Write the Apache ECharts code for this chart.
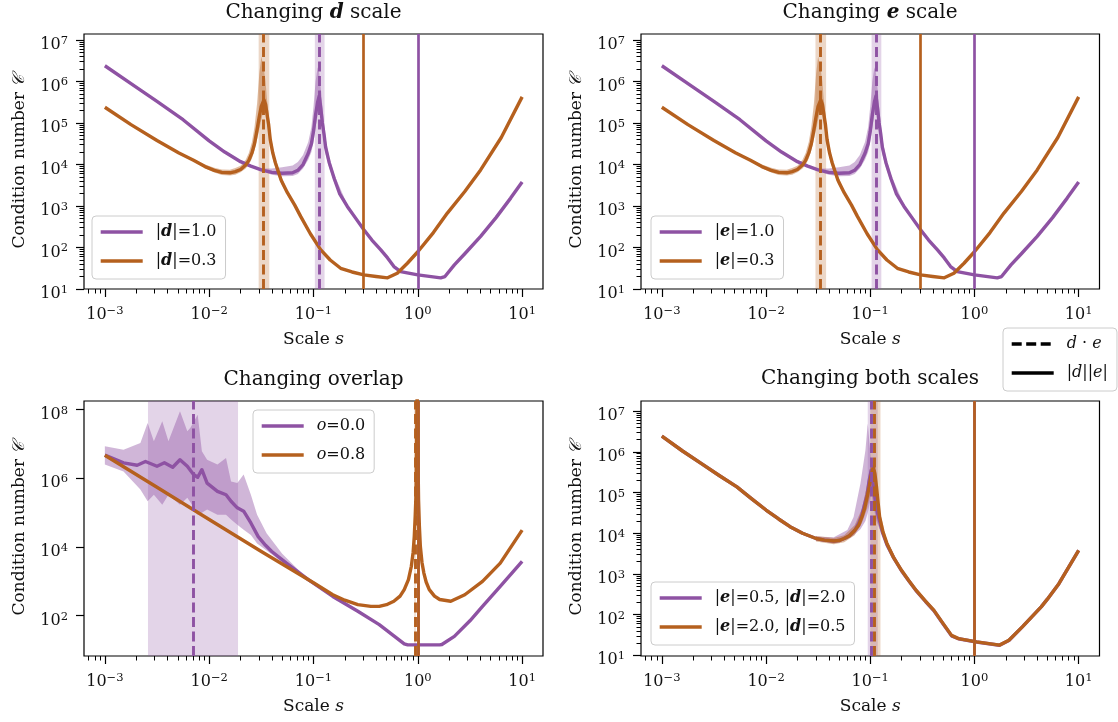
<!DOCTYPE html>
<html><head><meta charset="utf-8">
<script src="https://cdn.jsdelivr.net/npm/echarts@6/dist/echarts.min.js"></script>
<style>html,body{margin:0;padding:0;background:#fff}#c{width:1118px;height:722px}</style>
</head><body><div id="c"></div>
<script>
// ---------------- DATA ----------------
// Panel 1 / 2 : changing d (or e) scale   [scale s, condition number C]
const p1Purple = [[0.001,2.4e6],[0.00178,8.91e5],[0.00316,3.31e5],[0.00562,1.2e5],[0.01,3.72e4],[0.0141,2.0e4],[0.02,1.17e4],[0.0251,9120],[0.0316,7410],[0.0398,6460],[0.0501,6170],[0.0631,6310],[0.0708,7240],[0.0794,1.0e4],[0.0891,1.86e4],[0.0955,3.16e4],[0.1,6.3e4],[0.1047,1.58e5],[0.1096,3.16e5],[0.1135,4.47e5],[0.1175,2.24e5],[0.1216,1e5],[0.1259,5.62e4],[0.1306,2.63e4],[0.1413,1.12e4],[0.1585,4470],[0.1778,2000],[0.2109,977],[0.2512,525],[0.304,269],[0.363,151],[0.4395,89],[0.5129,56],[0.59,34.7],[0.684,26.3],[1.0,21.9],[1.656,18.6],[1.82,20],[2.24,38],[2.82,70.8],[4.0,186],[5.62,525],[7.76,1550],[10,3800]];
const p1PurpleBand = [[0.0251,9000,9300],[0.0316,7000,8000],[0.0398,5700,8000],[0.0501,5200,8600],[0.0631,5300,9500],[0.0708,5900,1.15e4],[0.0794,8000,1.7e4],[0.0891,1.3e4,3.5e4],[0.0955,2e4,8e4],[0.1,3.5e4,2.5e5],[0.1047,8e4,1e6],[0.1096,1.6e5,2.2e6],[0.1135,2.4e5,1.6e6],[0.1175,1.4e5,7e5],[0.1216,6.3e4,2.5e5],[0.1259,3.5e4,1e5],[0.1306,1.8e4,4.2e4],[0.1413,8500,1.5e4],[0.1585,3600,5600],[0.2109,880,1090]];
const p1Orange = [[0.001,2.4e5],[0.00178,9.12e4],[0.00316,3.8e4],[0.00513,1.9e4],[0.00708,1.26e4],[0.00912,8900],[0.0112,7240],[0.0132,6460],[0.0158,6310],[0.0178,6760],[0.02,7590],[0.0224,9770],[0.024,1.26e4],[0.0257,1.9e4],[0.0272,3.16e4],[0.0288,6.92e4],[0.0302,1.41e5],[0.0316,2.51e5],[0.0335,3.63e5],[0.0347,2.82e5],[0.0357,1.74e5],[0.0372,8.9e4],[0.0385,3.98e4],[0.0407,1.9e4],[0.0431,1.1e4],[0.049,4170],[0.0562,2090],[0.0661,1050],[0.0753,562],[0.0933,214],[0.117,89],[0.1445,50],[0.182,31.6],[0.234,25.7],[0.304,21.9],[0.398,20],[0.513,18.6],[0.635,24],[0.794,41.7],[1.0,79],[1.41,229],[1.92,676],[2.82,2240],[4.0,7410],[6.31,4.47e4],[10,4.27e5]];
const p1OrangeBand = [[0.00513,1.85e4,1.97e4],[0.00708,1.2e4,1.35e4],[0.00912,8100,1.0e4],[0.0112,6400,8300],[0.0132,5600,7600],[0.0158,5400,7500],[0.0178,5700,8200],[0.02,6500,9300],[0.0224,8000,1.3e4],[0.024,1e4,1.9e4],[0.0257,1.4e4,3.5e4],[0.0272,2.2e4,8e4],[0.0288,4e4,3e5],[0.0302,7e4,1.5e6],[0.0316,1.2e5,3.98e6],[0.0335,2.2e5,2e6],[0.0347,1.8e5,1e6],[0.0357,1.1e5,4e5],[0.0372,5.5e4,1.6e5],[0.0385,2.6e4,6e4],[0.0407,1.4e4,2.6e4],[0.0431,8500,1.4e4],[0.049,3400,5200],[0.0562,1900,2300],[0.0753,530,600]];
const p1Dashed = [0.1146, 0.0333];           // d·e  (purple, orange)
const p1Spans  = [[0.103,0.1277],[0.0298,0.0377]];
const p1Solid  = [1.0, 0.3];                 // |d||e|

// Panel 3 : changing overlap
const p3Purple = [[0.001,4.7e6],[0.00151,2.82e6],[0.00204,2.4e6],[0.00245,3.09e6],[0.00316,2.24e6],[0.00372,2.82e6],[0.00447,2.09e6],[0.00525,3.47e6],[0.00617,2.24e6],[0.00708,1.29e6],[0.00776,1.07e6],[0.00851,1.78e6],[0.00955,7.24e5],[0.012,4.17e5],[0.0145,3.31e5],[0.0162,2.14e5],[0.0186,1.38e5],[0.0214,1.1e5],[0.0251,5.0e4],[0.0295,2.0e4],[0.0347,1.12e4],[0.0398,7400],[0.055,3390],[0.0891,1120],[0.153,363],[0.266,135],[0.427,55],[0.741,15.1],[0.8,14.1],[1.62,14.1],[1.7,14.5],[2.24,25],[3.16,70.8],[4.17,186],[6.17,708],[10,3800]];
const p3PurpleBand = [[0.001,2.5e6,8.5e6],[0.00151,1.58e6,6.76e6],[0.00219,4.68e5,1.07e7],[0.00257,2.14e5,4.07e7],[0.00295,3.31e5,1.2e7],[0.00355,1.7e5,4.57e7],[0.00407,3.31e5,1.2e7],[0.00525,1.7e5,8.9e7],[0.00617,2.69e5,2.34e7],[0.00661,2e5,2.95e7],[0.00776,8.7e4,7.08e7],[0.00851,1e5,6.17e6],[0.00955,1.23e5,3.47e6],[0.012,8.7e4,2.5e6],[0.0145,8.7e4,3.89e6],[0.0162,6.3e4,8.1e5],[0.0186,4.47e4,7.24e5],[0.0214,3.16e4,1.29e6],[0.0251,2.24e4,3.31e5],[0.0288,1.26e4,8.7e4],[0.0355,7940,2.5e4],[0.0501,3550,6310],[0.0794,1260,1580],[0.126,501,589],[0.158,339,372]];
const p3Orange = [[0.001,4.68e6],[0.00316,5.5e5],[0.01,6.31e4],[0.0316,7410],[0.1,912],[0.153,407],[0.1995,282],[0.266,209],[0.355,186],[0.427,186],[0.501,209],[0.589,263],[0.676,372],[0.741,575],[0.813,1120],[0.867,2750],[0.902,7080],[0.925,2.04e4],[0.944,7.94e4],[0.962,3.72e5],[0.985,3.2e8],[1.016,2.4e5],[1.035,3.98e4],[1.057,1.05e4],[1.096,3550],[1.143,1740],[1.202,955],[1.288,575],[1.445,372],[1.62,295],[2.07,263],[2.82,407],[4.17,1000],[6.17,3390],[10,3.09e4]];
const p3Dashed = [0.0071, 0.94];
const p3Spans  = [[0.00259,0.0189],[0.925,0.955]];
const p3Solid  = [1.0, 1.0];

// Panel 4 : changing both scales
const p4Purple = [[0.001,2.45e6],[0.00158,1.05e6],[0.0024,5.13e5],[0.00355,2.63e5],[0.00525,1.38e5],[0.00724,7.08e4],[0.01,3.72e4],[0.0132,2.24e4],[0.017,1.45e4],[0.0224,1e4],[0.0302,7410],[0.0363,6760],[0.0447,6460],[0.0501,6610],[0.0562,7410],[0.0631,8710],[0.0708,1.17e4],[0.0776,1.78e4],[0.0832,2.82e4],[0.0881,5.01e4],[0.0933,8.9e4],[0.0977,2e5],[0.1023,3.55e5],[0.1059,1.78e5],[0.111,7.08e4],[0.1148,3.98e4],[0.123,2e4],[0.1318,1e4],[0.1445,5250],[0.166,2600],[0.1995,1200],[0.234,680],[0.275,390],[0.339,210],[0.407,126],[0.501,59],[0.603,30],[0.703,25.5],[1.047,21.2],[1.738,17.7],[2.14,23.2],[2.88,50],[4.37,155],[5.01,240],[6.46,575],[10,3800]];
const p4PurpleBand = [[0.0302,6610,8320],[0.0447,5620,7940],[0.0603,7080,1.2e4],[0.0692,8910,2.5e4],[0.0805,1.26e4,1.66e5],[0.0899,2e4,1.1e6],[0.0946,3.16e4,5.01e6],[0.1,6.3e4,1e6],[0.1023,1e5,5.01e5],[0.1084,3.98e4,1.58e5],[0.1148,2e4,5.01e4],[0.123,1.26e4,2.51e4],[0.1445,4470,6310],[0.1995,1120,1320]];
const p4Orange = [[0.001,2.45e6],[0.00158,1.05e6],[0.0024,5.13e5],[0.00355,2.63e5],[0.00525,1.38e5],[0.00724,7.08e4],[0.01,3.72e4],[0.0132,2.24e4],[0.017,1.45e4],[0.0224,1e4],[0.0302,7410],[0.0363,6760],[0.0447,6460],[0.0501,6610],[0.0562,7410],[0.0631,8710],[0.0708,1.17e4],[0.0776,1.58e4],[0.0832,2.51e4],[0.0881,3.98e4],[0.0933,7.76e4],[0.0977,1.41e5],[0.1012,2.45e5],[0.1072,4.27e5],[0.111,2.82e5],[0.1148,1.38e5],[0.1189,5.62e4],[0.123,2.51e4],[0.1318,1.12e4],[0.1445,5620],[0.166,2630],[0.1995,1230],[0.234,692],[0.275,398],[0.339,214],[0.407,129],[0.501,60],[0.603,30.9],[0.703,25.7],[1.047,21.4],[1.738,17.8],[2.14,23.4],[2.88,50],[4.37,155],[5.01,240],[6.46,575],[10,3800]];
const p4OrangeBand = [[0.0302,6310,8510],[0.0447,5370,7590],[0.0562,6030,8910],[0.0708,8910,1.58e4],[0.0832,1.78e4,3.98e4],[0.0933,3.98e4,1.58e5],[0.1012,1e5,5.01e5],[0.1072,2e5,6.31e5],[0.1148,7.94e4,2e5],[0.123,1.78e4,3.55e4],[0.1445,4790,6610],[0.1995,1120,1320]];
const p4Dashed = [0.1026, 0.109];
const p4Spans  = [[0.0946,0.118],[0.1,0.1253]];
const p4Solid  = [1.0, 1.0];

// Labels
const titles = ['Changing {bi|d} scale', 'Changing {bi|e} scale', 'Changing overlap', 'Changing both scales'];
const p1Names = ['|d|=1.0', '|d|=0.3'];
const p2Names = ['|e|=1.0', '|e|=0.3'];
const p3Names = ['o=0.0', 'o=0.8'];
const p4Names = ['|e|=0.5, |d|=2.0', '|e|=2.0, |d|=0.5'];
const figNames = ['d · e', '|d||e|'];
const xTickExps = [-3, -2, -1, 0, 1];
const yTickExps = [[1,2,3,4,5,6,7],[1,2,3,4,5,6,7],[2,4,6,8],[1,2,3,4,5,6,7]];
const xRange = [-3.2, 1.2];                       // log10 limits
const yRanges = [[1,7.145],[1,7.145],[0.826,8.25],[0.983,7.25]];

// ---------------- STYLE ----------------
const F = 'DejaVu Serif';
const PURPLE = '#8E52A3', ORANGE = '#B5601E';
const PURPLE_FILL = 'rgba(142,82,163,0.42)', ORANGE_FILL = 'rgba(181,96,30,0.42)';
const PURPLE_SPAN = 'rgba(142,82,163,0.25)', ORANGE_SPAN = 'rgba(181,96,30,0.25)';
const TXT = '#111';
const LW = 3.4;
const gridsPos = [{left:84, top:34, width:459, height:255},{left:641, top:34, width:458.5, height:255},
                  {left:84, top:401, width:459, height:255},{left:641, top:401, width:458.5, height:255}];

const tickRich = {
  b: {fontFamily:F, fontSize:16, lineHeight:18, verticalAlign:'bottom', color:TXT},
  s: {fontFamily:F, fontSize:11.5, lineHeight:12, verticalAlign:'top', color:TXT}
};
const nameRich = {
  n: {fontFamily:F, fontSize:17, color:TXT},
  i: {fontFamily:F, fontSize:17, fontStyle:'italic', color:TXT},
  c: {fontFamily:F, fontSize:17, fontStyle:'italic', color:TXT}
};
function expFmt(v){ const n = Math.round(v); return '{b|10}{s|' + (n < 0 ? '\u2212' + (-n) : n) + '}'; }
function minorExps(lo, hi){
  const out = [];
  for (let n = Math.floor(lo) - 1; n <= Math.ceil(hi); n++)
    for (let k = 2; k <= 9; k++){ const e = n + Math.log10(k); if (e > lo && e < hi) out.push(e); }
  return out;
}
const tickLine = {color:'#000', width:1.2};

const xAxes = [], yAxes = [];
for (let p = 0; p < 4; p++){
  xAxes.push({type:'log', gridIndex:p, logBase:10, min:Math.pow(10,xRange[0]), max:Math.pow(10,xRange[1]), show:false});
  xAxes.push({type:'value', gridIndex:p, position:'bottom', min:xRange[0], max:xRange[1],
    axisLine:{show:false, onZero:false}, splitLine:{show:false},
    axisTick:{show:true, customValues:xTickExps, length:8, lineStyle:tickLine},
    axisLabel:{show:true, customValues:xTickExps, formatter:expFmt, margin:16, rich:tickRich},
    name:'{n|Scale }{i|s}', nameLocation:'middle', nameGap:42, nameTextStyle:{rich:nameRich}});
  xAxes.push({type:'value', gridIndex:p, position:'bottom', min:xRange[0], max:xRange[1],
    axisLine:{show:false, onZero:false}, splitLine:{show:false}, axisLabel:{show:false},
    axisTick:{show:true, customValues:minorExps(xRange[0], xRange[1]), length:4.5, lineStyle:{color:'#000', width:1}}});
  const yr = yRanges[p];
  yAxes.push({type:'log', gridIndex:p, logBase:10, min:Math.pow(10,yr[0]), max:Math.pow(10,yr[1]), show:false});
  yAxes.push({type:'value', gridIndex:p, position:'left', min:yr[0], max:yr[1],
    axisLine:{show:false, onZero:false}, splitLine:{show:false},
    axisTick:{show:true, customValues:yTickExps[p], length:8, lineStyle:tickLine},
    axisLabel:{show:true, customValues:yTickExps[p], formatter:expFmt, margin:16, padding:[8,0,0,0], rich:tickRich},
    name:'{n|Condition number }{c|\uD835\uDC9E}', nameLocation:'middle', nameGap:56, nameTextStyle:{rich:nameRich}});
  yAxes.push({type:'value', gridIndex:p, position:'left', min:yr[0], max:yr[1],
    axisLine:{show:false, onZero:false}, splitLine:{show:false}, axisLabel:{show:false},
    axisTick:{show:p !== 2, customValues:p !== 2 ? minorExps(yr[0], yr[1]) : [], length:4.5, lineStyle:{color:'#000', width:1}}});
}

function band(p, data, fill){
  return {type:'custom', xAxisIndex:3*p, yAxisIndex:3*p, silent:true, z:2,
    data:[[data[0][0], data[0][1]]],
    renderItem: function(params, api){
      const up = data.map(b => api.coord([b[0], b[2]]));
      const lo = data.slice().reverse().map(b => api.coord([b[0], b[1]]));
      return {type:'polygon', shape:{points:up.concat(lo)}, style:{fill:fill, stroke:null}};
    }};
}
function curve(p, name, data, color, dashed, solid, span, spanColor){
  return {type:'line', name:name, xAxisIndex:3*p, yAxisIndex:3*p, data:data, symbol:'none', showSymbol:false,
    silent:true, z:3, lineStyle:{width:LW, color:color, join:'round'}, itemStyle:{color:color}, emphasis:{disabled:true},
    markLine:{silent:true, precision:8, symbol:['none','none'], label:{show:false}, emphasis:{disabled:true}, z:5,
      data:[{xAxis:dashed, lineStyle:{type:[10,4.5], width:2.9, color:color}},
            {xAxis:solid, lineStyle:{type:'solid', width:2.7, color:color}}]},
    markArea:{silent:true, precision:8, z:1, itemStyle:{color:spanColor}, emphasis:{disabled:true},
      data:[[{xAxis:span[0]}, {xAxis:span[1]}]]}};
}

const series = [];
// panel 1 & 2
[[0, p1Names],[1, p2Names]].forEach(([p, names]) => {
  series.push(band(p, p1PurpleBand, PURPLE_FILL));
  series.push(band(p, p1OrangeBand, ORANGE_FILL));
  series.push(curve(p, names[0], p1Purple, PURPLE, p1Dashed[0], p1Solid[0], p1Spans[0], PURPLE_SPAN));
  series.push(curve(p, names[1], p1Orange, ORANGE, p1Dashed[1], p1Solid[1], p1Spans[1], ORANGE_SPAN));
});
// panel 3
series.push(band(2, p3PurpleBand, PURPLE_FILL));
series.push(curve(2, p3Names[0], p3Purple, PURPLE, p3Dashed[0], p3Solid[0], p3Spans[0], PURPLE_SPAN));
series.push(curve(2, p3Names[1], p3Orange, ORANGE, p3Dashed[1], p3Solid[1], p3Spans[1], ORANGE_SPAN));
// panel 4
series.push(band(3, p4PurpleBand, PURPLE_FILL));
series.push(band(3, p4OrangeBand, ORANGE_FILL));
series.push(curve(3, p4Names[0], p4Purple, PURPLE, p4Dashed[0], p4Solid[0], p4Spans[0], PURPLE_SPAN));
series.push(curve(3, p4Names[1], p4Orange, ORANGE, p4Dashed[1], p4Solid[1], p4Spans[1], ORANGE_SPAN));
// figure legend proxies
series.push({type:'line', name:figNames[0], xAxisIndex:0, yAxisIndex:0, data:[], symbol:'none', color:'#000', lineStyle:{type:[10,4.5], width:LW, color:'#000'}});
series.push({type:'line', name:figNames[1], xAxisIndex:0, yAxisIndex:0, data:[], symbol:'none', color:'#000', lineStyle:{type:'solid', width:LW, color:'#000'}});

function legendFmt(name){
  if (name === figNames[0]) return '{i|d} · {i|e}';
  if (name === figNames[1]) return '|{i|d}||{i|e}|';
  if (name.charAt(0) === 'o') return '{i|o}' + name.slice(1);
  return name.replace(/\|([de])\|/g, '|{bi|$1}|');
}
const legendBase = {orient:'vertical', selectedMode:false, itemWidth:42, itemHeight:14, itemGap:9,
  itemStyle:{opacity:0}, lineStyle:{width:LW},
  padding:[6,9,8,7], backgroundColor:'rgba(255,255,255,0.85)', borderColor:'#cccccc', borderWidth:1, borderRadius:4,
  formatter:legendFmt,
  textStyle:{fontFamily:F, fontSize:16, color:TXT, lineHeight:20, padding:[0,0,0,8],
    rich:{bi:{fontFamily:F, fontSize:16, fontWeight:'bold', fontStyle:'italic', lineHeight:20, color:TXT},
          i:{fontFamily:F, fontSize:16, fontStyle:'italic', lineHeight:20, color:TXT}}}};
const legends = [
  Object.assign({}, legendBase, {data:p1Names, left:92, top:216}),
  Object.assign({}, legendBase, {data:p2Names, left:651, top:216}),
  Object.assign({}, legendBase, {data:p3Names, left:253, top:410}),
  Object.assign({}, legendBase, {data:p4Names, left:651, top:582}),
  Object.assign({}, legendBase, {data:figNames, left:1003, top:328})
];

const titleX = [313.5, 870, 313.5, 870], titleY = [1, 1, 368, 367];
const titleOpts = titles.map((t, i) => ({text:t, left:titleX[i], top:titleY[i], textAlign:'center', padding:0,
  textStyle:{fontFamily:F, fontSize:20, fontWeight:'normal', color:TXT, lineHeight:24,
    rich:{bi:{fontFamily:F, fontSize:20, fontWeight:'bold', fontStyle:'italic', color:TXT, lineHeight:24}}}}));

const chart = echarts.init(document.getElementById('c'), null, {renderer:'canvas'});
chart.setOption({
  animation:false,
  backgroundColor:'#fff',
  textStyle:{fontFamily:F},
  title:titleOpts,
  legend:legends,
  grid:gridsPos.map(g => Object.assign({show:true, borderColor:'#000', borderWidth:1.2, backgroundColor:'transparent'}, g)),
  xAxis:xAxes,
  yAxis:yAxes,
  series:series
});
</script></body></html>
